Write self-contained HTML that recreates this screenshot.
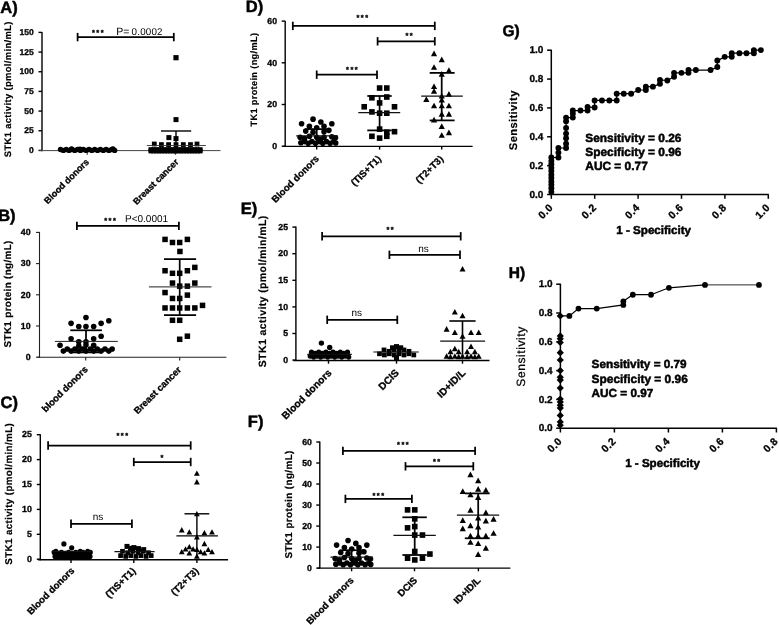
<!DOCTYPE html>
<html><head><meta charset="utf-8"><title>Figure</title>
<style>
html,body{margin:0;padding:0;background:#fff;}
body{width:779px;height:625px;overflow:hidden;}
svg{display:block;font-family:"Liberation Sans",sans-serif;will-change:transform;opacity:0.999;text-rendering:geometricPrecision;}
</style></head>
<body>
<svg width="779" height="625" viewBox="0 0 779 625">
<rect width="779" height="625" fill="#fff"/>
<g id="A">
<text x="0.30" y="12.70" font-size="16.5" font-weight="bold" text-anchor="start" fill="#000" stroke="#000" stroke-width="0.5">A)</text>
<line x1="42.00" y1="31.90" x2="42.00" y2="151.30" stroke="#000" stroke-width="1.4"/>
<line x1="38.50" y1="32.40" x2="42.00" y2="32.40" stroke="#000" stroke-width="1.4"/>
<text x="33.80" y="35.03" font-size="8.5" font-weight="bold" text-anchor="end" fill="#000" stroke="#000" stroke-width="0.32">150</text>
<line x1="38.50" y1="52.07" x2="42.00" y2="52.07" stroke="#000" stroke-width="1.4"/>
<text x="33.80" y="54.70" font-size="8.5" font-weight="bold" text-anchor="end" fill="#000" stroke="#000" stroke-width="0.32">125</text>
<line x1="38.50" y1="71.74" x2="42.00" y2="71.74" stroke="#000" stroke-width="1.4"/>
<text x="33.80" y="74.38" font-size="8.5" font-weight="bold" text-anchor="end" fill="#000" stroke="#000" stroke-width="0.32">100</text>
<line x1="38.50" y1="91.41" x2="42.00" y2="91.41" stroke="#000" stroke-width="1.4"/>
<text x="33.80" y="94.05" font-size="8.5" font-weight="bold" text-anchor="end" fill="#000" stroke="#000" stroke-width="0.32">75</text>
<line x1="38.50" y1="111.08" x2="42.00" y2="111.08" stroke="#000" stroke-width="1.4"/>
<text x="33.80" y="113.72" font-size="8.5" font-weight="bold" text-anchor="end" fill="#000" stroke="#000" stroke-width="0.32">50</text>
<line x1="38.50" y1="130.75" x2="42.00" y2="130.75" stroke="#000" stroke-width="1.4"/>
<text x="33.80" y="133.38" font-size="8.5" font-weight="bold" text-anchor="end" fill="#000" stroke="#000" stroke-width="0.32">25</text>
<line x1="38.50" y1="150.42" x2="42.00" y2="150.42" stroke="#000" stroke-width="1.4"/>
<text x="33.80" y="153.06" font-size="8.5" font-weight="bold" text-anchor="end" fill="#000" stroke="#000" stroke-width="0.32">0</text>
<line x1="39.50" y1="150.60" x2="220.50" y2="150.60" stroke="#444" stroke-width="1.0"/>
<line x1="88.00" y1="150.60" x2="88.00" y2="150.60" stroke="#444" stroke-width="1.0"/>
<line x1="174.70" y1="150.60" x2="174.70" y2="150.60" stroke="#444" stroke-width="1.0"/>
<text x="11.30" y="89.20" font-size="9.4" font-weight="bold" text-anchor="middle" fill="#000" letter-spacing="0.37" transform="rotate(-90 11.30 89.20)" stroke="#000" stroke-width="0.18">STK1 activity (pmol/min/mL)</text>
<line x1="77.60" y1="37.10" x2="173.80" y2="37.10" stroke="#000" stroke-width="1.75"/>
<line x1="77.60" y1="32.90" x2="77.60" y2="41.30" stroke="#000" stroke-width="1.75"/>
<line x1="173.80" y1="32.90" x2="173.80" y2="41.30" stroke="#000" stroke-width="1.75"/>
<text x="91.98" y="35.30" font-size="7.4" font-weight="bold" text-anchor="start" fill="#000" letter-spacing="1.5" stroke="#000" stroke-width="0.32">***</text>
<text x="116.20" y="34.80" font-size="10.5" font-weight="normal" text-anchor="start" fill="#000">P=</text>
<text x="131.60" y="34.90" font-size="9.8" font-weight="normal" text-anchor="start" fill="#000" letter-spacing="0.2">0.0002</text>
<circle cx="60.50" cy="149.50" r="2.7"/>
<circle cx="63.35" cy="150.40" r="2.7"/>
<circle cx="66.20" cy="149.50" r="2.7"/>
<circle cx="69.05" cy="150.40" r="2.7"/>
<circle cx="71.90" cy="149.50" r="2.7"/>
<circle cx="74.75" cy="150.40" r="2.7"/>
<circle cx="77.60" cy="149.50" r="2.7"/>
<circle cx="80.45" cy="150.40" r="2.7"/>
<circle cx="83.30" cy="149.50" r="2.7"/>
<circle cx="86.15" cy="150.40" r="2.7"/>
<circle cx="89.00" cy="149.50" r="2.7"/>
<circle cx="91.85" cy="150.40" r="2.7"/>
<circle cx="94.70" cy="149.50" r="2.7"/>
<circle cx="97.55" cy="150.40" r="2.7"/>
<circle cx="100.40" cy="149.50" r="2.7"/>
<circle cx="103.25" cy="150.40" r="2.7"/>
<circle cx="106.10" cy="149.50" r="2.7"/>
<circle cx="108.95" cy="150.40" r="2.7"/>
<circle cx="111.80" cy="149.50" r="2.7"/>
<circle cx="114.65" cy="150.40" r="2.7"/>
<circle cx="71.50" cy="149.00" r="2.7"/>
<circle cx="113.00" cy="148.90" r="2.7"/>
<circle cx="80.00" cy="149.20" r="2.7"/>
<line x1="87.20" y1="152.00" x2="87.20" y2="154.80" stroke="#222" stroke-width="1.0"/>
<line x1="175.30" y1="152.00" x2="175.30" y2="154.80" stroke="#222" stroke-width="1.0"/>
<rect x="148.50" y="147.20" width="4.6" height="4.6"/>
<rect x="148.50" y="148.80" width="4.6" height="4.6"/>
<rect x="151.25" y="147.20" width="4.6" height="4.6"/>
<rect x="151.25" y="148.80" width="4.6" height="4.6"/>
<rect x="154.00" y="147.20" width="4.6" height="4.6"/>
<rect x="154.00" y="148.80" width="4.6" height="4.6"/>
<rect x="156.75" y="147.20" width="4.6" height="4.6"/>
<rect x="156.75" y="148.80" width="4.6" height="4.6"/>
<rect x="159.50" y="147.20" width="4.6" height="4.6"/>
<rect x="159.50" y="148.80" width="4.6" height="4.6"/>
<rect x="162.25" y="147.20" width="4.6" height="4.6"/>
<rect x="162.25" y="148.80" width="4.6" height="4.6"/>
<rect x="165.00" y="147.20" width="4.6" height="4.6"/>
<rect x="165.00" y="148.80" width="4.6" height="4.6"/>
<rect x="167.75" y="147.20" width="4.6" height="4.6"/>
<rect x="167.75" y="148.80" width="4.6" height="4.6"/>
<rect x="170.50" y="147.20" width="4.6" height="4.6"/>
<rect x="170.50" y="148.80" width="4.6" height="4.6"/>
<rect x="173.25" y="147.20" width="4.6" height="4.6"/>
<rect x="173.25" y="148.80" width="4.6" height="4.6"/>
<rect x="176.00" y="147.20" width="4.6" height="4.6"/>
<rect x="176.00" y="148.80" width="4.6" height="4.6"/>
<rect x="178.75" y="147.20" width="4.6" height="4.6"/>
<rect x="178.75" y="148.80" width="4.6" height="4.6"/>
<rect x="181.50" y="147.20" width="4.6" height="4.6"/>
<rect x="181.50" y="148.80" width="4.6" height="4.6"/>
<rect x="184.25" y="147.20" width="4.6" height="4.6"/>
<rect x="184.25" y="148.80" width="4.6" height="4.6"/>
<rect x="187.00" y="147.20" width="4.6" height="4.6"/>
<rect x="187.00" y="148.80" width="4.6" height="4.6"/>
<rect x="189.75" y="147.20" width="4.6" height="4.6"/>
<rect x="189.75" y="148.80" width="4.6" height="4.6"/>
<rect x="192.50" y="147.20" width="4.6" height="4.6"/>
<rect x="192.50" y="148.80" width="4.6" height="4.6"/>
<rect x="195.25" y="147.20" width="4.6" height="4.6"/>
<rect x="195.25" y="148.80" width="4.6" height="4.6"/>
<rect x="198.00" y="147.20" width="4.6" height="4.6"/>
<rect x="198.00" y="148.80" width="4.6" height="4.6"/>
<rect x="151.90" y="141.60" width="4.8" height="4.8"/>
<rect x="159.00" y="142.20" width="4.8" height="4.8"/>
<rect x="166.20" y="142.20" width="4.8" height="4.8"/>
<rect x="180.90" y="142.20" width="4.8" height="4.8"/>
<rect x="188.10" y="142.20" width="4.8" height="4.8"/>
<rect x="194.60" y="141.60" width="4.8" height="4.8"/>
<rect x="173.60" y="142.20" width="4.8" height="4.8"/>
<rect x="173.40" y="55.10" width="5.2" height="5.2"/>
<rect x="173.50" y="117.10" width="5.0" height="5.0"/>
<rect x="166.40" y="135.10" width="5.0" height="5.0"/>
<rect x="173.50" y="136.10" width="5.0" height="5.0"/>
<line x1="176.00" y1="131.00" x2="176.00" y2="150.00" stroke="#000" stroke-width="1.4"/>
<line x1="161.00" y1="131.00" x2="191.20" y2="131.00" stroke="#000" stroke-width="1.4"/>
<line x1="146.80" y1="145.50" x2="205.90" y2="145.50" stroke="#333" stroke-width="0.9"/>
<text x="89.60" y="162.60" font-size="9.1" font-weight="bold" text-anchor="end" fill="#000" transform="rotate(-45 89.60 162.60)" stroke="#000" stroke-width="0.32">Blood donors</text>
<text x="179.20" y="162.60" font-size="9.1" font-weight="bold" text-anchor="end" fill="#000" transform="rotate(-45 179.20 162.60)" stroke="#000" stroke-width="0.32">Breast cancer</text>
</g>
<g id="B">
<text x="-1.80" y="221.30" font-size="16.5" font-weight="bold" text-anchor="start" fill="#000" stroke="#000" stroke-width="0.5">B)</text>
<line x1="39.50" y1="231.90" x2="39.50" y2="357.70" stroke="#222" stroke-width="1.1"/>
<line x1="36.00" y1="232.40" x2="39.50" y2="232.40" stroke="#222" stroke-width="1.1"/>
<text x="30.60" y="235.13" font-size="8.8" font-weight="bold" text-anchor="end" fill="#000" stroke="#000" stroke-width="0.32">40</text>
<line x1="36.00" y1="263.60" x2="39.50" y2="263.60" stroke="#222" stroke-width="1.1"/>
<text x="30.60" y="266.33" font-size="8.8" font-weight="bold" text-anchor="end" fill="#000" stroke="#000" stroke-width="0.32">30</text>
<line x1="36.00" y1="294.80" x2="39.50" y2="294.80" stroke="#222" stroke-width="1.1"/>
<text x="30.60" y="297.53" font-size="8.8" font-weight="bold" text-anchor="end" fill="#000" stroke="#000" stroke-width="0.32">20</text>
<line x1="36.00" y1="326.00" x2="39.50" y2="326.00" stroke="#222" stroke-width="1.1"/>
<text x="30.60" y="328.73" font-size="8.8" font-weight="bold" text-anchor="end" fill="#000" stroke="#000" stroke-width="0.32">10</text>
<line x1="36.00" y1="357.20" x2="39.50" y2="357.20" stroke="#222" stroke-width="1.1"/>
<text x="30.60" y="359.93" font-size="8.8" font-weight="bold" text-anchor="end" fill="#000" stroke="#000" stroke-width="0.32">0</text>
<line x1="37.50" y1="357.20" x2="226.40" y2="357.20" stroke="#222" stroke-width="1.1"/>
<line x1="85.70" y1="357.20" x2="85.70" y2="360.40" stroke="#222" stroke-width="1.1"/>
<line x1="179.70" y1="357.20" x2="179.70" y2="360.40" stroke="#222" stroke-width="1.1"/>
<text x="10.60" y="293.90" font-size="9.95" font-weight="bold" text-anchor="middle" fill="#000" letter-spacing="0.3" transform="rotate(-90 10.60 293.90)" stroke="#000" stroke-width="0.18">STK1 protein (ng/mL)</text>
<line x1="76.90" y1="225.90" x2="178.90" y2="225.90" stroke="#000" stroke-width="1.75"/>
<line x1="76.90" y1="221.70" x2="76.90" y2="230.10" stroke="#000" stroke-width="1.75"/>
<line x1="178.90" y1="221.70" x2="178.90" y2="230.10" stroke="#000" stroke-width="1.75"/>
<text x="104.18" y="223.40" font-size="7.4" font-weight="bold" text-anchor="start" fill="#000" letter-spacing="1.5" stroke="#000" stroke-width="0.32">***</text>
<text x="125.00" y="222.40" font-size="10" font-weight="normal" text-anchor="start" fill="#000">P&lt;0.0001</text>
<rect x="162.29" y="236.66" width="5.5" height="5.5"/>
<rect x="169.74" y="239.74" width="5.5" height="5.5"/>
<rect x="176.93" y="239.74" width="5.5" height="5.5"/>
<rect x="184.63" y="236.66" width="5.5" height="5.5"/>
<rect x="177.19" y="248.73" width="5.5" height="5.5"/>
<rect x="162.29" y="267.98" width="5.5" height="5.5"/>
<rect x="169.74" y="270.55" width="5.5" height="5.5"/>
<rect x="176.93" y="270.55" width="5.5" height="5.5"/>
<rect x="184.63" y="267.98" width="5.5" height="5.5"/>
<rect x="192.08" y="264.65" width="5.5" height="5.5"/>
<rect x="169.74" y="280.31" width="5.5" height="5.5"/>
<rect x="176.93" y="283.39" width="5.5" height="5.5"/>
<rect x="184.63" y="283.39" width="5.5" height="5.5"/>
<rect x="192.08" y="280.31" width="5.5" height="5.5"/>
<rect x="162.29" y="289.81" width="5.5" height="5.5"/>
<rect x="169.74" y="295.71" width="5.5" height="5.5"/>
<rect x="176.93" y="295.71" width="5.5" height="5.5"/>
<rect x="184.63" y="292.37" width="5.5" height="5.5"/>
<rect x="162.29" y="305.21" width="5.5" height="5.5"/>
<rect x="169.74" y="305.21" width="5.5" height="5.5"/>
<rect x="176.93" y="305.21" width="5.5" height="5.5"/>
<rect x="184.63" y="305.21" width="5.5" height="5.5"/>
<rect x="192.08" y="305.21" width="5.5" height="5.5"/>
<rect x="199.78" y="302.64" width="5.5" height="5.5"/>
<rect x="169.74" y="317.53" width="5.5" height="5.5"/>
<rect x="176.93" y="317.53" width="5.5" height="5.5"/>
<rect x="176.93" y="336.53" width="5.5" height="5.5"/>
<rect x="184.63" y="333.45" width="5.5" height="5.5"/>
<line x1="179.70" y1="259.20" x2="179.70" y2="315.20" stroke="#000" stroke-width="1.75"/>
<line x1="164.00" y1="259.20" x2="196.10" y2="259.20" stroke="#000" stroke-width="1.75"/>
<line x1="164.00" y1="315.20" x2="196.10" y2="315.20" stroke="#000" stroke-width="1.75"/>
<line x1="148.90" y1="286.90" x2="211.50" y2="286.90" stroke="#222" stroke-width="1.0"/>
<circle cx="85.97" cy="317.46" r="2.8"/>
<circle cx="71.08" cy="323.37" r="2.8"/>
<circle cx="78.78" cy="326.45" r="2.8"/>
<circle cx="85.97" cy="326.45" r="2.8"/>
<circle cx="93.67" cy="326.45" r="2.8"/>
<circle cx="101.12" cy="323.37" r="2.8"/>
<circle cx="108.82" cy="320.80" r="2.8"/>
<circle cx="71.08" cy="338.77" r="2.8"/>
<circle cx="78.78" cy="341.85" r="2.8"/>
<circle cx="85.97" cy="341.85" r="2.8"/>
<circle cx="93.67" cy="338.77" r="2.8"/>
<circle cx="101.12" cy="336.20" r="2.8"/>
<circle cx="60.04" cy="345.19" r="2.8"/>
<circle cx="78.78" cy="345.96" r="2.8"/>
<circle cx="85.97" cy="344.93" r="2.8"/>
<circle cx="93.67" cy="345.19" r="2.8"/>
<circle cx="63.38" cy="351.09" r="2.8"/>
<circle cx="67.23" cy="349.04" r="2.8"/>
<circle cx="71.08" cy="351.09" r="2.8"/>
<circle cx="74.93" cy="349.04" r="2.8"/>
<circle cx="78.78" cy="351.09" r="2.8"/>
<circle cx="82.63" cy="349.04" r="2.8"/>
<circle cx="85.97" cy="351.09" r="2.8"/>
<circle cx="90.33" cy="349.04" r="2.8"/>
<circle cx="93.67" cy="351.09" r="2.8"/>
<circle cx="97.27" cy="349.04" r="2.8"/>
<circle cx="101.12" cy="351.09" r="2.8"/>
<circle cx="104.97" cy="349.04" r="2.8"/>
<circle cx="108.82" cy="351.09" r="2.8"/>
<circle cx="112.16" cy="349.04" r="2.8"/>
<line x1="86.00" y1="330.30" x2="86.00" y2="352.40" stroke="#000" stroke-width="1.75"/>
<line x1="70.30" y1="330.30" x2="101.90" y2="330.30" stroke="#000" stroke-width="1.75"/>
<line x1="70.30" y1="352.40" x2="101.90" y2="352.40" stroke="#000" stroke-width="1.75"/>
<line x1="54.90" y1="341.40" x2="117.80" y2="341.40" stroke="#222" stroke-width="1.0"/>
<text x="88.40" y="370.00" font-size="9.45" font-weight="bold" text-anchor="end" fill="#000" transform="rotate(-45 88.40 370.00)" stroke="#000" stroke-width="0.32">blood donors</text>
<text x="181.80" y="370.40" font-size="9.45" font-weight="bold" text-anchor="end" fill="#000" transform="rotate(-45 181.80 370.40)" stroke="#000" stroke-width="0.32">Breast cancer</text>
</g>
<g id="C">
<text x="0.60" y="408.20" font-size="16.5" font-weight="bold" text-anchor="start" fill="#000" stroke="#000" stroke-width="0.5">C)</text>
<line x1="40.30" y1="434.20" x2="40.30" y2="560.20" stroke="#000" stroke-width="1.4"/>
<line x1="36.80" y1="434.70" x2="40.30" y2="434.70" stroke="#000" stroke-width="1.4"/>
<text x="31.80" y="437.43" font-size="8.8" font-weight="bold" text-anchor="end" fill="#000" stroke="#000" stroke-width="0.32">25</text>
<line x1="36.80" y1="459.60" x2="40.30" y2="459.60" stroke="#000" stroke-width="1.4"/>
<text x="31.80" y="462.33" font-size="8.8" font-weight="bold" text-anchor="end" fill="#000" stroke="#000" stroke-width="0.32">20</text>
<line x1="36.80" y1="484.50" x2="40.30" y2="484.50" stroke="#000" stroke-width="1.4"/>
<text x="31.80" y="487.23" font-size="8.8" font-weight="bold" text-anchor="end" fill="#000" stroke="#000" stroke-width="0.32">15</text>
<line x1="36.80" y1="509.40" x2="40.30" y2="509.40" stroke="#000" stroke-width="1.4"/>
<text x="31.80" y="512.13" font-size="8.8" font-weight="bold" text-anchor="end" fill="#000" stroke="#000" stroke-width="0.32">10</text>
<line x1="36.80" y1="534.30" x2="40.30" y2="534.30" stroke="#000" stroke-width="1.4"/>
<text x="31.80" y="537.03" font-size="8.8" font-weight="bold" text-anchor="end" fill="#000" stroke="#000" stroke-width="0.32">5</text>
<line x1="36.80" y1="559.20" x2="40.30" y2="559.20" stroke="#000" stroke-width="1.4"/>
<text x="31.80" y="561.93" font-size="8.8" font-weight="bold" text-anchor="end" fill="#000" stroke="#000" stroke-width="0.32">0</text>
<line x1="38.00" y1="559.70" x2="228.10" y2="559.70" stroke="#000" stroke-width="1.4"/>
<line x1="71.00" y1="559.70" x2="71.00" y2="562.90" stroke="#000" stroke-width="1.4"/>
<line x1="133.80" y1="559.70" x2="133.80" y2="562.90" stroke="#000" stroke-width="1.4"/>
<line x1="196.90" y1="559.70" x2="196.90" y2="562.90" stroke="#000" stroke-width="1.4"/>
<text x="12.00" y="493.80" font-size="9.8" font-weight="bold" text-anchor="middle" fill="#000" letter-spacing="0.375" transform="rotate(-90 12.00 493.80)" stroke="#000" stroke-width="0.18">STK1 activity (pmol/min/mL)</text>
<line x1="48.10" y1="445.50" x2="190.70" y2="445.50" stroke="#000" stroke-width="1.75"/>
<line x1="48.10" y1="441.30" x2="48.10" y2="449.70" stroke="#000" stroke-width="1.75"/>
<line x1="190.70" y1="441.30" x2="190.70" y2="449.70" stroke="#000" stroke-width="1.75"/>
<text x="116.38" y="437.90" font-size="7.4" font-weight="bold" text-anchor="start" fill="#000" letter-spacing="1.5" stroke="#000" stroke-width="0.32">***</text>
<line x1="133.80" y1="462.00" x2="190.70" y2="462.00" stroke="#000" stroke-width="1.75"/>
<line x1="133.80" y1="457.80" x2="133.80" y2="466.20" stroke="#000" stroke-width="1.75"/>
<line x1="190.70" y1="457.80" x2="190.70" y2="466.20" stroke="#000" stroke-width="1.75"/>
<text x="160.56" y="459.60" font-size="7.4" font-weight="bold" text-anchor="start" fill="#000" letter-spacing="1.5" stroke="#000" stroke-width="0.32">*</text>
<line x1="71.00" y1="523.80" x2="131.90" y2="523.80" stroke="#000" stroke-width="1.75"/>
<line x1="71.00" y1="519.60" x2="71.00" y2="528.00" stroke="#000" stroke-width="1.75"/>
<line x1="131.90" y1="519.60" x2="131.90" y2="528.00" stroke="#000" stroke-width="1.75"/>
<text x="98.00" y="520.30" font-size="10" font-weight="normal" text-anchor="middle" fill="#000">ns</text>
<path d="M193.97 475.77L199.77 475.77L196.87 470.44Z"/>
<path d="M193.97 484.40L199.77 484.40L196.87 479.07Z"/>
<path d="M193.97 516.21L199.77 516.21L196.87 510.88Z"/>
<path d="M178.87 532.39L184.67 532.39L181.77 527.05Z"/>
<path d="M186.42 534.54L192.22 534.54L189.32 529.21Z"/>
<path d="M201.52 535.35L207.32 535.35L204.42 530.02Z"/>
<path d="M209.07 534.54L214.87 534.54L211.97 529.21Z"/>
<path d="M193.97 539.40L199.77 539.40L196.87 534.06Z"/>
<path d="M201.52 546.13L207.32 546.13L204.42 540.80Z"/>
<path d="M178.87 554.22L184.67 554.22L181.77 548.89Z"/>
<path d="M182.65 551.53L188.45 551.53L185.55 546.19Z"/>
<path d="M186.42 549.37L192.22 549.37L189.32 544.03Z"/>
<path d="M190.19 551.53L195.99 551.53L193.09 546.19Z"/>
<path d="M186.42 555.57L192.22 555.57L189.32 550.23Z"/>
<path d="M193.97 552.07L199.77 552.07L196.87 546.73Z"/>
<path d="M197.74 554.22L203.54 554.22L200.64 548.89Z"/>
<path d="M201.52 555.57L207.32 555.57L204.42 550.23Z"/>
<path d="M205.29 552.07L211.09 552.07L208.19 546.73Z"/>
<path d="M209.07 554.22L214.87 554.22L211.97 548.89Z"/>
<path d="M193.97 558.80L199.77 558.80L196.87 553.47Z"/>
<line x1="196.90" y1="513.80" x2="196.90" y2="558.00" stroke="#000" stroke-width="1.4"/>
<line x1="184.50" y1="513.80" x2="209.30" y2="513.80" stroke="#000" stroke-width="1.4"/>
<line x1="176.40" y1="535.90" x2="217.90" y2="535.90" stroke="#000" stroke-width="1.3"/>
<circle cx="63.90" cy="543.90" r="2.6"/>
<circle cx="71.70" cy="547.80" r="2.6"/>
<circle cx="55.00" cy="556.50" r="2.6"/>
<circle cx="58.50" cy="557.30" r="2.6"/>
<circle cx="62.00" cy="556.50" r="2.6"/>
<circle cx="65.50" cy="557.30" r="2.6"/>
<circle cx="69.00" cy="556.50" r="2.6"/>
<circle cx="72.50" cy="557.30" r="2.6"/>
<circle cx="76.00" cy="556.50" r="2.6"/>
<circle cx="79.50" cy="557.30" r="2.6"/>
<circle cx="83.00" cy="556.50" r="2.6"/>
<circle cx="86.50" cy="557.30" r="2.6"/>
<circle cx="90.00" cy="556.50" r="2.6"/>
<circle cx="54.20" cy="552.40" r="2.6"/>
<circle cx="57.80" cy="553.60" r="2.6"/>
<circle cx="61.40" cy="552.40" r="2.6"/>
<circle cx="65.00" cy="553.60" r="2.6"/>
<circle cx="68.60" cy="552.40" r="2.6"/>
<circle cx="72.20" cy="553.60" r="2.6"/>
<circle cx="75.80" cy="552.40" r="2.6"/>
<circle cx="79.40" cy="553.60" r="2.6"/>
<circle cx="83.00" cy="552.40" r="2.6"/>
<circle cx="86.60" cy="553.60" r="2.6"/>
<circle cx="90.20" cy="552.40" r="2.6"/>
<circle cx="55.90" cy="551.20" r="2.5"/>
<circle cx="80.20" cy="551.20" r="2.5"/>
<circle cx="87.60" cy="551.20" r="2.5"/>
<line x1="51.70" y1="551.30" x2="92.40" y2="551.30" stroke="#111" stroke-width="1.2"/>
<rect x="118.25" y="553.25" width="4.7" height="4.7"/>
<rect x="123.35" y="554.05" width="4.7" height="4.7"/>
<rect x="128.45" y="553.25" width="4.7" height="4.7"/>
<rect x="133.55" y="554.05" width="4.7" height="4.7"/>
<rect x="138.65" y="553.25" width="4.7" height="4.7"/>
<rect x="143.75" y="554.05" width="4.7" height="4.7"/>
<rect x="148.85" y="553.25" width="4.7" height="4.7"/>
<rect x="120.15" y="548.95" width="4.7" height="4.7"/>
<rect x="125.35" y="550.35" width="4.7" height="4.7"/>
<rect x="130.55" y="548.95" width="4.7" height="4.7"/>
<rect x="135.75" y="550.35" width="4.7" height="4.7"/>
<rect x="140.95" y="548.95" width="4.7" height="4.7"/>
<rect x="146.15" y="550.35" width="4.7" height="4.7"/>
<rect x="124.50" y="543.90" width="5.0" height="5.0"/>
<rect x="131.40" y="545.10" width="5.0" height="5.0"/>
<rect x="141.20" y="547.10" width="5.0" height="5.0"/>
<rect x="136.00" y="546.10" width="5.0" height="5.0"/>
<rect x="128.00" y="545.90" width="5.0" height="5.0"/>
<line x1="114.40" y1="551.70" x2="154.60" y2="551.70" stroke="#111" stroke-width="1.2"/>
<text x="75.00" y="571.10" font-size="9.6" font-weight="bold" text-anchor="end" fill="#000" transform="rotate(-45 75.00 571.10)" stroke="#000" stroke-width="0.32">Blood donors</text>
<text x="136.20" y="571.60" font-size="9.6" font-weight="bold" text-anchor="end" fill="#000" transform="rotate(-45 136.20 571.60)" stroke="#000" stroke-width="0.32">(TIS+T1)</text>
<text x="199.20" y="571.60" font-size="9.6" font-weight="bold" text-anchor="end" fill="#000" transform="rotate(-45 199.20 571.60)" stroke="#000" stroke-width="0.32">(T2+T3)</text>
</g>
<g id="D">
<text x="245.80" y="12.20" font-size="16.5" font-weight="bold" text-anchor="start" fill="#000" stroke="#000" stroke-width="0.5">D)</text>
<line x1="285.20" y1="20.90" x2="285.20" y2="146.90" stroke="#000" stroke-width="1.4"/>
<line x1="281.70" y1="21.10" x2="285.20" y2="21.10" stroke="#000" stroke-width="1.4"/>
<text x="277.00" y="23.80" font-size="8.7" font-weight="bold" text-anchor="end" fill="#000" stroke="#000" stroke-width="0.32">60</text>
<line x1="281.70" y1="62.80" x2="285.20" y2="62.80" stroke="#000" stroke-width="1.4"/>
<text x="277.00" y="65.50" font-size="8.7" font-weight="bold" text-anchor="end" fill="#000" stroke="#000" stroke-width="0.32">40</text>
<line x1="281.70" y1="104.50" x2="285.20" y2="104.50" stroke="#000" stroke-width="1.4"/>
<text x="277.00" y="107.20" font-size="8.7" font-weight="bold" text-anchor="end" fill="#000" stroke="#000" stroke-width="0.32">20</text>
<line x1="281.70" y1="146.20" x2="285.20" y2="146.20" stroke="#000" stroke-width="1.4"/>
<text x="277.00" y="148.90" font-size="8.7" font-weight="bold" text-anchor="end" fill="#000" stroke="#000" stroke-width="0.32">0</text>
<line x1="283.00" y1="146.40" x2="472.60" y2="146.40" stroke="#000" stroke-width="1.4"/>
<line x1="316.70" y1="146.40" x2="316.70" y2="149.60" stroke="#000" stroke-width="1.4"/>
<line x1="379.60" y1="146.40" x2="379.60" y2="149.60" stroke="#000" stroke-width="1.4"/>
<line x1="441.70" y1="146.40" x2="441.70" y2="149.60" stroke="#000" stroke-width="1.4"/>
<text x="257.00" y="79.60" font-size="9.2" font-weight="bold" text-anchor="middle" fill="#000" letter-spacing="0.35" transform="rotate(-90 257.00 79.60)" stroke="#000" stroke-width="0.18">TK1 protein (ng/mL)</text>
<line x1="292.80" y1="25.90" x2="434.80" y2="25.90" stroke="#000" stroke-width="1.75"/>
<line x1="292.80" y1="21.70" x2="292.80" y2="30.10" stroke="#000" stroke-width="1.75"/>
<line x1="434.80" y1="21.70" x2="434.80" y2="30.10" stroke="#000" stroke-width="1.75"/>
<text x="356.38" y="19.90" font-size="7.4" font-weight="bold" text-anchor="start" fill="#000" letter-spacing="1.5" stroke="#000" stroke-width="0.32">***</text>
<line x1="377.60" y1="41.30" x2="434.80" y2="41.30" stroke="#000" stroke-width="1.75"/>
<line x1="377.60" y1="37.10" x2="377.60" y2="45.50" stroke="#000" stroke-width="1.75"/>
<line x1="434.80" y1="37.10" x2="434.80" y2="45.50" stroke="#000" stroke-width="1.75"/>
<text x="405.47" y="38.10" font-size="7.4" font-weight="bold" text-anchor="start" fill="#000" letter-spacing="1.5" stroke="#000" stroke-width="0.32">**</text>
<line x1="316.70" y1="74.70" x2="377.00" y2="74.70" stroke="#000" stroke-width="1.75"/>
<line x1="316.70" y1="70.50" x2="316.70" y2="78.90" stroke="#000" stroke-width="1.75"/>
<line x1="377.00" y1="70.50" x2="377.00" y2="78.90" stroke="#000" stroke-width="1.75"/>
<text x="346.08" y="71.60" font-size="7.4" font-weight="bold" text-anchor="start" fill="#000" letter-spacing="1.5" stroke="#000" stroke-width="0.32">***</text>
<path d="M430.94 56.23L437.14 56.23L434.04 50.52Z"/>
<path d="M438.65 62.13L444.85 62.13L441.75 56.43Z"/>
<path d="M430.94 69.83L437.14 69.83L434.04 64.13Z"/>
<path d="M445.83 72.92L452.03 72.92L448.93 67.21Z"/>
<path d="M438.65 76.77L444.85 76.77L441.75 71.06Z"/>
<path d="M430.94 89.09L437.14 89.09L434.04 83.39Z"/>
<path d="M430.94 93.71L437.14 93.71L434.04 88.01Z"/>
<path d="M438.65 98.59L444.85 98.59L441.75 92.89Z"/>
<path d="M445.83 96.79L452.03 96.79L448.93 91.09Z"/>
<path d="M423.24 101.93L429.44 101.93L426.34 96.22Z"/>
<path d="M438.65 102.44L444.85 102.44L441.75 96.74Z"/>
<path d="M430.94 108.35L437.14 108.35L434.04 102.64Z"/>
<path d="M438.65 108.35L444.85 108.35L441.75 102.64Z"/>
<path d="M445.83 108.35L452.03 108.35L448.93 102.64Z"/>
<path d="M438.65 116.82L444.85 116.82L441.75 111.11Z"/>
<path d="M445.83 116.82L452.03 116.82L448.93 111.11Z"/>
<path d="M430.94 122.47L437.14 122.47L434.04 116.76Z"/>
<path d="M438.65 128.88L444.85 128.88L441.75 123.18Z"/>
<path d="M445.83 135.30L452.03 135.30L448.93 129.60Z"/>
<path d="M438.65 137.87L444.85 137.87L441.75 132.17Z"/>
<line x1="441.70" y1="72.90" x2="441.70" y2="120.40" stroke="#000" stroke-width="1.75"/>
<line x1="429.70" y1="72.90" x2="454.60" y2="72.90" stroke="#000" stroke-width="1.75"/>
<line x1="429.70" y1="120.40" x2="454.60" y2="120.40" stroke="#000" stroke-width="1.75"/>
<line x1="421.20" y1="96.00" x2="462.80" y2="96.00" stroke="#111" stroke-width="1.25"/>
<rect x="376.81" y="85.24" width="5.6" height="5.6"/>
<rect x="384.00" y="85.24" width="5.6" height="5.6"/>
<rect x="369.11" y="94.99" width="5.6" height="5.6"/>
<rect x="384.00" y="94.22" width="5.6" height="5.6"/>
<rect x="361.41" y="103.98" width="5.6" height="5.6"/>
<rect x="376.81" y="100.13" width="5.6" height="5.6"/>
<rect x="391.71" y="103.98" width="5.6" height="5.6"/>
<rect x="369.11" y="109.11" width="5.6" height="5.6"/>
<rect x="376.81" y="110.40" width="5.6" height="5.6"/>
<rect x="384.00" y="110.40" width="5.6" height="5.6"/>
<rect x="376.81" y="126.31" width="5.6" height="5.6"/>
<rect x="391.71" y="128.88" width="5.6" height="5.6"/>
<rect x="369.11" y="133.50" width="5.6" height="5.6"/>
<rect x="376.81" y="135.30" width="5.6" height="5.6"/>
<rect x="384.00" y="133.50" width="5.6" height="5.6"/>
<rect x="384.00" y="129.39" width="5.6" height="5.6"/>
<line x1="379.60" y1="96.00" x2="379.60" y2="130.40" stroke="#000" stroke-width="1.75"/>
<line x1="367.30" y1="96.00" x2="391.70" y2="96.00" stroke="#000" stroke-width="1.75"/>
<line x1="367.30" y1="130.40" x2="391.70" y2="130.40" stroke="#000" stroke-width="1.75"/>
<line x1="358.30" y1="112.70" x2="400.20" y2="112.70" stroke="#111" stroke-width="1.25"/>
<circle cx="313.05" cy="119.15" r="2.8"/>
<circle cx="301.59" cy="123.78" r="2.8"/>
<circle cx="320.85" cy="122.07" r="2.8"/>
<circle cx="331.83" cy="123.78" r="2.8"/>
<circle cx="309.39" cy="126.22" r="2.8"/>
<circle cx="324.02" cy="126.22" r="2.8"/>
<circle cx="316.71" cy="127.68" r="2.8"/>
<circle cx="305.73" cy="131.10" r="2.8"/>
<circle cx="313.05" cy="132.32" r="2.8"/>
<circle cx="324.02" cy="131.83" r="2.8"/>
<circle cx="328.90" cy="130.37" r="2.8"/>
<circle cx="300.12" cy="137.20" r="2.8"/>
<circle cx="309.39" cy="136.22" r="2.8"/>
<circle cx="316.71" cy="137.20" r="2.8"/>
<circle cx="324.02" cy="137.20" r="2.8"/>
<circle cx="331.83" cy="136.71" r="2.8"/>
<circle cx="335.49" cy="137.68" r="2.8"/>
<circle cx="304.51" cy="138.66" r="2.8"/>
<circle cx="320.37" cy="139.15" r="2.8"/>
<circle cx="300.85" cy="142.80" r="2.8"/>
<circle cx="304.51" cy="141.59" r="2.8"/>
<circle cx="308.17" cy="143.29" r="2.8"/>
<circle cx="311.83" cy="141.59" r="2.8"/>
<circle cx="315.49" cy="143.29" r="2.8"/>
<circle cx="319.15" cy="141.59" r="2.8"/>
<circle cx="322.80" cy="143.29" r="2.8"/>
<circle cx="326.46" cy="141.59" r="2.8"/>
<circle cx="330.12" cy="143.29" r="2.8"/>
<circle cx="333.78" cy="141.59" r="2.8"/>
<circle cx="335.73" cy="143.05" r="2.8"/>
<line x1="316.70" y1="129.10" x2="316.70" y2="142.50" stroke="#000" stroke-width="1.75"/>
<line x1="305.20" y1="129.10" x2="328.80" y2="129.10" stroke="#000" stroke-width="1.75"/>
<line x1="305.20" y1="142.50" x2="328.80" y2="142.50" stroke="#000" stroke-width="1.75"/>
<line x1="296.20" y1="135.80" x2="337.80" y2="135.80" stroke="#111" stroke-width="1.25"/>
<text x="319.60" y="159.20" font-size="9.6" font-weight="bold" text-anchor="end" fill="#000" transform="rotate(-45 319.60 159.20)" stroke="#000" stroke-width="0.32">Blood donors</text>
<text x="381.70" y="159.60" font-size="9.6" font-weight="bold" text-anchor="end" fill="#000" transform="rotate(-45 381.70 159.60)" stroke="#000" stroke-width="0.32">(TIS+T1)</text>
<text x="443.90" y="159.60" font-size="9.6" font-weight="bold" text-anchor="end" fill="#000" transform="rotate(-45 443.90 159.60)" stroke="#000" stroke-width="0.32">(T2+T3)</text>
</g>
<g id="E">
<text x="240.80" y="213.80" font-size="16.5" font-weight="bold" text-anchor="start" fill="#000" stroke="#000" stroke-width="0.5">E)</text>
<line x1="295.90" y1="226.60" x2="295.90" y2="361.00" stroke="#000" stroke-width="1.4"/>
<line x1="292.40" y1="227.10" x2="295.90" y2="227.10" stroke="#000" stroke-width="1.4"/>
<text x="288.00" y="229.80" font-size="8.7" font-weight="bold" text-anchor="end" fill="#000" stroke="#000" stroke-width="0.32">25</text>
<line x1="292.40" y1="253.70" x2="295.90" y2="253.70" stroke="#000" stroke-width="1.4"/>
<text x="288.00" y="256.40" font-size="8.7" font-weight="bold" text-anchor="end" fill="#000" stroke="#000" stroke-width="0.32">20</text>
<line x1="292.40" y1="280.30" x2="295.90" y2="280.30" stroke="#000" stroke-width="1.4"/>
<text x="288.00" y="283.00" font-size="8.7" font-weight="bold" text-anchor="end" fill="#000" stroke="#000" stroke-width="0.32">15</text>
<line x1="292.40" y1="306.90" x2="295.90" y2="306.90" stroke="#000" stroke-width="1.4"/>
<text x="288.00" y="309.60" font-size="8.7" font-weight="bold" text-anchor="end" fill="#000" stroke="#000" stroke-width="0.32">10</text>
<line x1="292.40" y1="333.50" x2="295.90" y2="333.50" stroke="#000" stroke-width="1.4"/>
<text x="288.00" y="336.20" font-size="8.7" font-weight="bold" text-anchor="end" fill="#000" stroke="#000" stroke-width="0.32">5</text>
<line x1="292.40" y1="360.10" x2="295.90" y2="360.10" stroke="#000" stroke-width="1.4"/>
<text x="288.00" y="362.80" font-size="8.7" font-weight="bold" text-anchor="end" fill="#000" stroke="#000" stroke-width="0.32">0</text>
<line x1="293.50" y1="360.50" x2="489.50" y2="360.50" stroke="#000" stroke-width="1.4"/>
<line x1="328.50" y1="360.50" x2="328.50" y2="363.70" stroke="#000" stroke-width="1.4"/>
<line x1="396.50" y1="360.50" x2="396.50" y2="363.70" stroke="#000" stroke-width="1.4"/>
<line x1="462.50" y1="360.50" x2="462.50" y2="363.70" stroke="#000" stroke-width="1.4"/>
<text x="266.20" y="291.30" font-size="10.5" font-weight="bold" text-anchor="middle" fill="#000" letter-spacing="0.4" transform="rotate(-90 266.20 291.30)" stroke="#000" stroke-width="0.18">STK1 activity (pmol/min/mL)</text>
<line x1="322.10" y1="236.30" x2="460.70" y2="236.30" stroke="#000" stroke-width="1.75"/>
<line x1="322.10" y1="232.10" x2="322.10" y2="240.50" stroke="#000" stroke-width="1.75"/>
<line x1="460.70" y1="232.10" x2="460.70" y2="240.50" stroke="#000" stroke-width="1.75"/>
<text x="386.47" y="232.40" font-size="7.4" font-weight="bold" text-anchor="start" fill="#000" letter-spacing="1.5" stroke="#000" stroke-width="0.32">**</text>
<line x1="389.40" y1="254.80" x2="460.00" y2="254.80" stroke="#000" stroke-width="1.75"/>
<line x1="389.40" y1="250.60" x2="389.40" y2="259.00" stroke="#000" stroke-width="1.75"/>
<line x1="460.00" y1="250.60" x2="460.00" y2="259.00" stroke="#000" stroke-width="1.75"/>
<text x="423.50" y="252.20" font-size="10" font-weight="normal" text-anchor="middle" fill="#000">ns</text>
<line x1="327.20" y1="319.80" x2="397.30" y2="319.80" stroke="#000" stroke-width="1.75"/>
<line x1="327.20" y1="315.60" x2="327.20" y2="324.00" stroke="#000" stroke-width="1.75"/>
<line x1="397.30" y1="315.60" x2="397.30" y2="324.00" stroke="#000" stroke-width="1.75"/>
<text x="356.80" y="315.90" font-size="10" font-weight="normal" text-anchor="middle" fill="#000">ns</text>
<path d="M459.53 271.56L465.53 271.56L462.53 266.04Z"/>
<path d="M451.83 314.44L457.83 314.44L454.83 308.92Z"/>
<path d="M459.53 318.29L465.53 318.29L462.53 312.77Z"/>
<path d="M443.61 331.64L449.61 331.64L446.61 326.12Z"/>
<path d="M451.83 334.98L457.83 334.98L454.83 329.46Z"/>
<path d="M468.00 334.98L474.00 334.98L471.00 329.46Z"/>
<path d="M475.70 334.98L481.70 334.98L478.70 329.46Z"/>
<path d="M459.53 338.83L465.53 338.83L462.53 333.31Z"/>
<path d="M451.83 351.15L457.83 351.15L454.83 345.63Z"/>
<path d="M468.00 349.10L474.00 349.10L471.00 343.58Z"/>
<path d="M447.46 354.23L453.46 354.23L450.46 348.71Z"/>
<path d="M455.68 354.23L461.68 354.23L458.68 348.71Z"/>
<path d="M464.15 354.23L470.15 354.23L467.15 348.71Z"/>
<path d="M471.85 354.23L477.85 354.23L474.85 348.71Z"/>
<path d="M443.61 358.85L449.61 358.85L446.61 353.33Z"/>
<path d="M447.46 359.37L453.46 359.37L450.46 353.85Z"/>
<path d="M451.83 358.85L457.83 358.85L454.83 353.33Z"/>
<path d="M455.68 359.37L461.68 359.37L458.68 353.85Z"/>
<path d="M459.53 358.85L465.53 358.85L462.53 353.33Z"/>
<path d="M464.15 359.37L470.15 359.37L467.15 353.85Z"/>
<path d="M468.00 358.85L474.00 358.85L471.00 353.33Z"/>
<path d="M471.85 359.37L477.85 359.37L474.85 353.85Z"/>
<path d="M475.70 358.85L481.70 358.85L478.70 353.33Z"/>
<line x1="462.50" y1="321.00" x2="462.50" y2="359.50" stroke="#000" stroke-width="1.6"/>
<line x1="449.40" y1="321.00" x2="475.60" y2="321.00" stroke="#000" stroke-width="1.6"/>
<line x1="440.20" y1="341.20" x2="485.10" y2="341.20" stroke="#111" stroke-width="1.2"/>
<circle cx="321.40" cy="343.10" r="2.7"/>
<circle cx="329.70" cy="347.50" r="2.7"/>
<circle cx="310.20" cy="356.10" r="2.6"/>
<circle cx="313.70" cy="357.10" r="2.6"/>
<circle cx="317.20" cy="356.10" r="2.6"/>
<circle cx="320.70" cy="357.10" r="2.6"/>
<circle cx="324.20" cy="356.10" r="2.6"/>
<circle cx="327.70" cy="357.10" r="2.6"/>
<circle cx="331.20" cy="356.10" r="2.6"/>
<circle cx="334.70" cy="357.10" r="2.6"/>
<circle cx="338.20" cy="356.10" r="2.6"/>
<circle cx="341.70" cy="357.10" r="2.6"/>
<circle cx="345.20" cy="356.10" r="2.6"/>
<circle cx="348.70" cy="357.10" r="2.6"/>
<circle cx="311.50" cy="352.20" r="2.6"/>
<circle cx="315.10" cy="353.40" r="2.6"/>
<circle cx="318.70" cy="352.20" r="2.6"/>
<circle cx="322.30" cy="353.40" r="2.6"/>
<circle cx="325.90" cy="352.20" r="2.6"/>
<circle cx="329.50" cy="353.40" r="2.6"/>
<circle cx="333.10" cy="352.20" r="2.6"/>
<circle cx="336.70" cy="353.40" r="2.6"/>
<circle cx="340.30" cy="352.20" r="2.6"/>
<circle cx="343.90" cy="353.40" r="2.6"/>
<circle cx="347.50" cy="352.20" r="2.6"/>
<line x1="307.30" y1="354.40" x2="351.80" y2="354.40" stroke="#111" stroke-width="1.2"/>
<rect x="377.15" y="351.45" width="4.7" height="4.7"/>
<rect x="382.05" y="352.65" width="4.7" height="4.7"/>
<rect x="386.95" y="351.45" width="4.7" height="4.7"/>
<rect x="391.85" y="352.65" width="4.7" height="4.7"/>
<rect x="396.75" y="351.45" width="4.7" height="4.7"/>
<rect x="401.65" y="352.65" width="4.7" height="4.7"/>
<rect x="406.55" y="351.45" width="4.7" height="4.7"/>
<rect x="411.45" y="352.65" width="4.7" height="4.7"/>
<rect x="381.65" y="347.55" width="4.7" height="4.7"/>
<rect x="386.65" y="348.95" width="4.7" height="4.7"/>
<rect x="391.65" y="347.55" width="4.7" height="4.7"/>
<rect x="396.65" y="348.95" width="4.7" height="4.7"/>
<rect x="401.65" y="347.55" width="4.7" height="4.7"/>
<rect x="406.65" y="348.95" width="4.7" height="4.7"/>
<rect x="394.00" y="344.10" width="5.0" height="5.0"/>
<rect x="390.00" y="345.30" width="5.0" height="5.0"/>
<rect x="398.20" y="345.30" width="5.0" height="5.0"/>
<rect x="394.00" y="355.10" width="5.0" height="5.0"/>
<line x1="373.40" y1="352.00" x2="418.80" y2="352.00" stroke="#111" stroke-width="1.2"/>
<text x="332.20" y="373.60" font-size="10.1" font-weight="bold" text-anchor="end" fill="#000" transform="rotate(-45 332.20 373.60)" stroke="#000" stroke-width="0.32">Blood donors</text>
<text x="399.60" y="373.60" font-size="10.1" font-weight="bold" text-anchor="end" fill="#000" transform="rotate(-45 399.60 373.60)" stroke="#000" stroke-width="0.32">DCIS</text>
<text x="466.00" y="373.60" font-size="10.1" font-weight="bold" text-anchor="end" fill="#000" transform="rotate(-45 466.00 373.60)" stroke="#000" stroke-width="0.32">ID+ID/L</text>
</g>
<g id="F">
<text x="247.80" y="427.20" font-size="16.5" font-weight="bold" text-anchor="start" fill="#000" stroke="#000" stroke-width="0.5">F)</text>
<line x1="319.80" y1="441.50" x2="319.80" y2="568.60" stroke="#000" stroke-width="1.4"/>
<line x1="316.30" y1="442.00" x2="319.80" y2="442.00" stroke="#000" stroke-width="1.4"/>
<text x="311.80" y="444.70" font-size="8.7" font-weight="bold" text-anchor="end" fill="#000" stroke="#000" stroke-width="0.32">60</text>
<line x1="316.30" y1="463.02" x2="319.80" y2="463.02" stroke="#000" stroke-width="1.4"/>
<text x="311.80" y="465.72" font-size="8.7" font-weight="bold" text-anchor="end" fill="#000" stroke="#000" stroke-width="0.32">50</text>
<line x1="316.30" y1="484.04" x2="319.80" y2="484.04" stroke="#000" stroke-width="1.4"/>
<text x="311.80" y="486.74" font-size="8.7" font-weight="bold" text-anchor="end" fill="#000" stroke="#000" stroke-width="0.32">40</text>
<line x1="316.30" y1="505.06" x2="319.80" y2="505.06" stroke="#000" stroke-width="1.4"/>
<text x="311.80" y="507.76" font-size="8.7" font-weight="bold" text-anchor="end" fill="#000" stroke="#000" stroke-width="0.32">30</text>
<line x1="316.30" y1="526.08" x2="319.80" y2="526.08" stroke="#000" stroke-width="1.4"/>
<text x="311.80" y="528.78" font-size="8.7" font-weight="bold" text-anchor="end" fill="#000" stroke="#000" stroke-width="0.32">20</text>
<line x1="316.30" y1="547.10" x2="319.80" y2="547.10" stroke="#000" stroke-width="1.4"/>
<text x="311.80" y="549.80" font-size="8.7" font-weight="bold" text-anchor="end" fill="#000" stroke="#000" stroke-width="0.32">10</text>
<line x1="316.30" y1="568.12" x2="319.80" y2="568.12" stroke="#000" stroke-width="1.4"/>
<text x="311.80" y="570.82" font-size="8.7" font-weight="bold" text-anchor="end" fill="#000" stroke="#000" stroke-width="0.32">0</text>
<line x1="317.50" y1="568.10" x2="510.40" y2="568.10" stroke="#000" stroke-width="1.4"/>
<line x1="351.60" y1="568.10" x2="351.60" y2="571.30" stroke="#000" stroke-width="1.4"/>
<line x1="414.50" y1="568.10" x2="414.50" y2="571.30" stroke="#000" stroke-width="1.4"/>
<line x1="478.40" y1="568.10" x2="478.40" y2="571.30" stroke="#000" stroke-width="1.4"/>
<text x="292.20" y="504.40" font-size="9.9" font-weight="bold" text-anchor="middle" fill="#000" letter-spacing="0.4" transform="rotate(-90 292.20 504.40)" stroke="#000" stroke-width="0.18">STK1 protein (ng/mL)</text>
<line x1="342.90" y1="450.90" x2="475.10" y2="450.90" stroke="#000" stroke-width="1.75"/>
<line x1="342.90" y1="446.70" x2="342.90" y2="455.10" stroke="#000" stroke-width="1.75"/>
<line x1="475.10" y1="446.70" x2="475.10" y2="455.10" stroke="#000" stroke-width="1.75"/>
<text x="397.08" y="447.40" font-size="7.4" font-weight="bold" text-anchor="start" fill="#000" letter-spacing="1.5" stroke="#000" stroke-width="0.32">***</text>
<line x1="405.50" y1="466.30" x2="473.30" y2="466.30" stroke="#000" stroke-width="1.75"/>
<line x1="405.50" y1="462.10" x2="405.50" y2="470.50" stroke="#000" stroke-width="1.75"/>
<line x1="473.30" y1="462.10" x2="473.30" y2="470.50" stroke="#000" stroke-width="1.75"/>
<text x="432.97" y="464.00" font-size="7.4" font-weight="bold" text-anchor="start" fill="#000" letter-spacing="1.5" stroke="#000" stroke-width="0.32">**</text>
<line x1="345.40" y1="498.90" x2="411.90" y2="498.90" stroke="#000" stroke-width="1.75"/>
<line x1="345.40" y1="494.70" x2="345.40" y2="503.10" stroke="#000" stroke-width="1.75"/>
<line x1="411.90" y1="494.70" x2="411.90" y2="503.10" stroke="#000" stroke-width="1.75"/>
<text x="372.48" y="498.20" font-size="7.4" font-weight="bold" text-anchor="start" fill="#000" letter-spacing="1.5" stroke="#000" stroke-width="0.32">***</text>
<path d="M467.36 477.31L473.56 477.31L470.46 471.61Z"/>
<path d="M475.06 483.22L481.26 483.22L478.16 477.51Z"/>
<path d="M459.66 494.00L465.86 494.00L462.76 488.30Z"/>
<path d="M475.06 491.69L481.26 491.69L478.16 485.98Z"/>
<path d="M482.77 492.72L488.97 492.72L485.87 487.01Z"/>
<path d="M467.36 497.34L473.56 497.34L470.46 491.63Z"/>
<path d="M475.06 499.90L481.26 499.90L478.16 494.20Z"/>
<path d="M467.36 512.74L473.56 512.74L470.46 507.04Z"/>
<path d="M482.77 515.31L488.97 515.31L485.87 509.60Z"/>
<path d="M459.66 523.01L465.86 523.01L462.76 517.31Z"/>
<path d="M475.06 520.44L481.26 520.44L478.16 514.74Z"/>
<path d="M490.47 521.73L496.67 521.73L493.57 516.02Z"/>
<path d="M467.36 528.15L473.56 528.15L470.46 522.44Z"/>
<path d="M482.77 523.52L488.97 523.52L485.87 517.82Z"/>
<path d="M459.66 531.23L465.86 531.23L462.76 525.52Z"/>
<path d="M475.06 529.43L481.26 529.43L478.16 523.73Z"/>
<path d="M467.36 538.42L473.56 538.42L470.46 532.71Z"/>
<path d="M482.77 538.42L488.97 538.42L485.87 532.71Z"/>
<path d="M490.47 535.85L496.67 535.85L493.57 530.14Z"/>
<path d="M475.06 538.42L481.26 538.42L478.16 532.71Z"/>
<path d="M467.36 544.83L473.56 544.83L470.46 539.13Z"/>
<path d="M475.06 546.12L481.26 546.12L478.16 540.41Z"/>
<path d="M482.77 550.74L488.97 550.74L485.87 545.03Z"/>
<path d="M475.06 556.90L481.26 556.90L478.16 551.20Z"/>
<line x1="478.20" y1="493.40" x2="478.20" y2="538.30" stroke="#000" stroke-width="1.75"/>
<line x1="464.80" y1="493.40" x2="489.70" y2="493.40" stroke="#000" stroke-width="1.75"/>
<line x1="464.80" y1="538.30" x2="489.70" y2="538.30" stroke="#000" stroke-width="1.75"/>
<line x1="456.90" y1="515.20" x2="499.20" y2="515.20" stroke="#111" stroke-width="1.25"/>
<rect x="404.76" y="507.09" width="5.6" height="5.6"/>
<rect x="411.95" y="507.09" width="5.6" height="5.6"/>
<rect x="411.95" y="516.08" width="5.6" height="5.6"/>
<rect x="404.76" y="525.06" width="5.6" height="5.6"/>
<rect x="411.95" y="523.78" width="5.6" height="5.6"/>
<rect x="411.95" y="532.25" width="5.6" height="5.6"/>
<rect x="419.65" y="532.25" width="5.6" height="5.6"/>
<rect x="411.95" y="548.68" width="5.6" height="5.6"/>
<rect x="427.10" y="551.25" width="5.6" height="5.6"/>
<rect x="404.76" y="555.36" width="5.6" height="5.6"/>
<rect x="419.65" y="555.36" width="5.6" height="5.6"/>
<rect x="411.95" y="557.15" width="5.6" height="5.6"/>
<line x1="414.70" y1="517.30" x2="414.70" y2="555.00" stroke="#000" stroke-width="1.75"/>
<line x1="402.40" y1="517.30" x2="426.80" y2="517.30" stroke="#000" stroke-width="1.75"/>
<line x1="402.40" y1="555.00" x2="426.80" y2="555.00" stroke="#000" stroke-width="1.75"/>
<line x1="393.40" y1="535.30" x2="435.80" y2="535.30" stroke="#111" stroke-width="1.25"/>
<circle cx="348.05" cy="540.49" r="2.8"/>
<circle cx="336.59" cy="545.12" r="2.8"/>
<circle cx="355.85" cy="543.41" r="2.8"/>
<circle cx="366.83" cy="545.12" r="2.8"/>
<circle cx="344.39" cy="547.56" r="2.8"/>
<circle cx="359.02" cy="547.56" r="2.8"/>
<circle cx="351.71" cy="549.02" r="2.8"/>
<circle cx="340.73" cy="552.44" r="2.8"/>
<circle cx="348.05" cy="553.66" r="2.8"/>
<circle cx="359.02" cy="553.17" r="2.8"/>
<circle cx="363.90" cy="551.71" r="2.8"/>
<circle cx="335.12" cy="558.54" r="2.8"/>
<circle cx="344.39" cy="557.56" r="2.8"/>
<circle cx="351.71" cy="558.54" r="2.8"/>
<circle cx="359.02" cy="558.54" r="2.8"/>
<circle cx="366.83" cy="558.05" r="2.8"/>
<circle cx="370.49" cy="559.02" r="2.8"/>
<circle cx="339.51" cy="560.00" r="2.8"/>
<circle cx="355.37" cy="560.49" r="2.8"/>
<circle cx="335.85" cy="564.15" r="2.8"/>
<circle cx="339.51" cy="562.93" r="2.8"/>
<circle cx="343.17" cy="564.63" r="2.8"/>
<circle cx="346.83" cy="562.93" r="2.8"/>
<circle cx="350.49" cy="564.63" r="2.8"/>
<circle cx="354.15" cy="562.93" r="2.8"/>
<circle cx="357.80" cy="564.63" r="2.8"/>
<circle cx="361.46" cy="562.93" r="2.8"/>
<circle cx="365.12" cy="564.63" r="2.8"/>
<circle cx="368.78" cy="562.93" r="2.8"/>
<circle cx="370.73" cy="564.39" r="2.8"/>
<line x1="351.60" y1="550.20" x2="351.60" y2="564.00" stroke="#000" stroke-width="1.75"/>
<line x1="339.50" y1="550.20" x2="363.40" y2="550.20" stroke="#000" stroke-width="1.75"/>
<line x1="339.50" y1="564.00" x2="363.40" y2="564.00" stroke="#000" stroke-width="1.75"/>
<line x1="330.50" y1="557.10" x2="372.90" y2="557.10" stroke="#111" stroke-width="1.25"/>
<text x="354.30" y="581.00" font-size="9.6" font-weight="bold" text-anchor="end" fill="#000" transform="rotate(-45 354.30 581.00)" stroke="#000" stroke-width="0.32">Blood donors</text>
<text x="417.80" y="581.00" font-size="9.6" font-weight="bold" text-anchor="end" fill="#000" transform="rotate(-45 417.80 581.00)" stroke="#000" stroke-width="0.32">DCIS</text>
<text x="481.20" y="581.00" font-size="9.6" font-weight="bold" text-anchor="end" fill="#000" transform="rotate(-45 481.20 581.00)" stroke="#000" stroke-width="0.32">ID+ID/L</text>
</g>
<g id="G">
<text x="502.50" y="36.40" font-size="15.5" font-weight="bold" text-anchor="start" fill="#000" stroke="#000" stroke-width="0.5">G)</text>
<line x1="551.30" y1="49.70" x2="551.30" y2="195.00" stroke="#000" stroke-width="1.5"/>
<line x1="547.10" y1="50.20" x2="551.30" y2="50.20" stroke="#000" stroke-width="1.5"/>
<text x="543.40" y="53.30" font-size="10.0" font-weight="bold" text-anchor="end" fill="#000" stroke="#000" stroke-width="0.32">1.0</text>
<line x1="547.10" y1="79.06" x2="551.30" y2="79.06" stroke="#000" stroke-width="1.5"/>
<text x="543.40" y="82.16" font-size="10.0" font-weight="bold" text-anchor="end" fill="#000" stroke="#000" stroke-width="0.32">0.8</text>
<line x1="547.10" y1="107.92" x2="551.30" y2="107.92" stroke="#000" stroke-width="1.5"/>
<text x="543.40" y="111.02" font-size="10.0" font-weight="bold" text-anchor="end" fill="#000" stroke="#000" stroke-width="0.32">0.6</text>
<line x1="547.10" y1="136.78" x2="551.30" y2="136.78" stroke="#000" stroke-width="1.5"/>
<text x="543.40" y="139.88" font-size="10.0" font-weight="bold" text-anchor="end" fill="#000" stroke="#000" stroke-width="0.32">0.4</text>
<line x1="547.10" y1="165.64" x2="551.30" y2="165.64" stroke="#000" stroke-width="1.5"/>
<text x="543.40" y="168.74" font-size="10.0" font-weight="bold" text-anchor="end" fill="#000" stroke="#000" stroke-width="0.32">0.2</text>
<line x1="547.10" y1="194.50" x2="551.30" y2="194.50" stroke="#000" stroke-width="1.5"/>
<text x="543.40" y="197.60" font-size="10.0" font-weight="bold" text-anchor="end" fill="#000" stroke="#000" stroke-width="0.32">0.0</text>
<line x1="550.80" y1="194.50" x2="768.80" y2="194.50" stroke="#000" stroke-width="1.5"/>
<line x1="551.30" y1="194.50" x2="551.30" y2="198.80" stroke="#000" stroke-width="1.5"/>
<line x1="594.70" y1="194.50" x2="594.70" y2="198.80" stroke="#000" stroke-width="1.5"/>
<line x1="638.10" y1="194.50" x2="638.10" y2="198.80" stroke="#000" stroke-width="1.5"/>
<line x1="681.50" y1="194.50" x2="681.50" y2="198.80" stroke="#000" stroke-width="1.5"/>
<line x1="724.90" y1="194.50" x2="724.90" y2="198.80" stroke="#000" stroke-width="1.5"/>
<line x1="768.30" y1="194.50" x2="768.30" y2="198.80" stroke="#000" stroke-width="1.5"/>
<text x="553.70" y="208.10" font-size="10.4" font-weight="bold" text-anchor="end" fill="#000" letter-spacing="0.5" transform="rotate(-45 553.70 208.10)" stroke="#000" stroke-width="0.32">0.0</text>
<text x="597.10" y="208.10" font-size="10.4" font-weight="bold" text-anchor="end" fill="#000" letter-spacing="0.5" transform="rotate(-45 597.10 208.10)" stroke="#000" stroke-width="0.32">0.2</text>
<text x="640.50" y="208.10" font-size="10.4" font-weight="bold" text-anchor="end" fill="#000" letter-spacing="0.5" transform="rotate(-45 640.50 208.10)" stroke="#000" stroke-width="0.32">0.4</text>
<text x="683.90" y="208.10" font-size="10.4" font-weight="bold" text-anchor="end" fill="#000" letter-spacing="0.5" transform="rotate(-45 683.90 208.10)" stroke="#000" stroke-width="0.32">0.6</text>
<text x="727.30" y="208.10" font-size="10.4" font-weight="bold" text-anchor="end" fill="#000" letter-spacing="0.5" transform="rotate(-45 727.30 208.10)" stroke="#000" stroke-width="0.32">0.8</text>
<text x="770.70" y="208.10" font-size="10.4" font-weight="bold" text-anchor="end" fill="#000" letter-spacing="0.5" transform="rotate(-45 770.70 208.10)" stroke="#000" stroke-width="0.32">1.0</text>
<text x="517.40" y="120.20" font-size="11.2" font-weight="bold" text-anchor="middle" fill="#000" letter-spacing="0.36" transform="rotate(-90 517.40 120.20)" stroke="#000" stroke-width="0.15">Sensitivity</text>
<text x="653.70" y="233.90" font-size="11.6" font-weight="bold" text-anchor="middle" fill="#000" stroke="#000" stroke-width="0.5">1 - Specificity</text>
<text x="585.30" y="141.80" font-size="11.9" font-weight="bold" text-anchor="start" fill="#000" stroke="#000" stroke-width="0.5">Sensitivity = 0.26</text>
<text x="585.30" y="155.90" font-size="11.9" font-weight="bold" text-anchor="start" fill="#000" stroke="#000" stroke-width="0.5">Specificity = 0.96</text>
<text x="585.30" y="170.00" font-size="11.9" font-weight="bold" text-anchor="start" fill="#000" stroke="#000" stroke-width="0.5">AUC = 0.77</text>
<polyline fill="none" stroke="#000" stroke-width="1.2" points="551.4,191.9 551.4,157.5 558.4,157.5 558.4,148.0 566.1,148.0 566.1,117.6 572.8,117.6 572.8,110.6 580.5,110.6 587.6,110.6 587.6,106.9 594.6,107.5 594.6,100.4 602.0,100.4 609.3,100.4 616.7,100.4 616.7,93.7 623.8,93.7 631.1,93.7 638.2,90.0 645.8,90.0 645.8,86.6 652.9,86.6 660.0,83.9 660.0,79.9 667.3,80.5 674.1,76.8 674.1,72.8 681.4,72.8 688.5,72.8 688.5,70.1 695.9,70.1 710.6,70.1 717.3,67.0 717.3,60.6 724.7,56.9 731.8,56.9 731.8,53.2 739.4,53.2 746.5,53.2 753.8,53.2 753.8,50.1 760.9,50.1"/>
<circle cx="551.35" cy="157.51" r="2.95"/>
<circle cx="551.35" cy="160.88" r="2.95"/>
<circle cx="551.35" cy="164.26" r="2.95"/>
<circle cx="551.35" cy="167.63" r="2.95"/>
<circle cx="551.35" cy="171.01" r="2.95"/>
<circle cx="551.35" cy="174.69" r="2.95"/>
<circle cx="551.35" cy="178.06" r="2.95"/>
<circle cx="551.35" cy="181.44" r="2.95"/>
<circle cx="551.35" cy="184.81" r="2.95"/>
<circle cx="551.35" cy="188.19" r="2.95"/>
<circle cx="551.35" cy="191.87" r="2.95"/>
<circle cx="558.41" cy="157.51" r="2.95"/>
<circle cx="558.41" cy="152.60" r="2.95"/>
<circle cx="558.41" cy="148.00" r="2.95"/>
<circle cx="566.08" cy="148.00" r="2.95"/>
<circle cx="566.08" cy="143.70" r="2.95"/>
<circle cx="566.08" cy="138.18" r="2.95"/>
<circle cx="566.08" cy="133.58" r="2.95"/>
<circle cx="566.08" cy="128.05" r="2.95"/>
<circle cx="566.08" cy="121.30" r="2.95"/>
<circle cx="566.08" cy="117.62" r="2.95"/>
<circle cx="572.83" cy="117.62" r="2.95"/>
<circle cx="572.83" cy="113.63" r="2.95"/>
<circle cx="572.83" cy="110.57" r="2.95"/>
<circle cx="580.50" cy="110.57" r="2.95"/>
<circle cx="587.55" cy="110.57" r="2.95"/>
<circle cx="587.55" cy="106.88" r="2.95"/>
<circle cx="594.61" cy="107.50" r="2.95"/>
<circle cx="594.61" cy="100.44" r="2.95"/>
<circle cx="601.97" cy="100.44" r="2.95"/>
<circle cx="609.34" cy="100.44" r="2.95"/>
<circle cx="616.70" cy="100.44" r="2.95"/>
<circle cx="616.70" cy="93.69" r="2.95"/>
<circle cx="623.76" cy="93.69" r="2.95"/>
<circle cx="631.12" cy="93.69" r="2.95"/>
<circle cx="638.18" cy="90.01" r="2.95"/>
<circle cx="645.85" cy="90.01" r="2.95"/>
<circle cx="645.85" cy="86.63" r="2.95"/>
<circle cx="652.90" cy="86.63" r="2.95"/>
<circle cx="659.96" cy="83.87" r="2.95"/>
<circle cx="659.96" cy="79.88" r="2.95"/>
<circle cx="667.32" cy="80.50" r="2.95"/>
<circle cx="674.07" cy="76.82" r="2.95"/>
<circle cx="674.07" cy="72.83" r="2.95"/>
<circle cx="681.44" cy="72.83" r="2.95"/>
<circle cx="688.49" cy="72.83" r="2.95"/>
<circle cx="688.49" cy="70.07" r="2.95"/>
<circle cx="695.86" cy="70.07" r="2.95"/>
<circle cx="710.58" cy="70.07" r="2.95"/>
<circle cx="717.33" cy="67.00" r="2.95"/>
<circle cx="717.33" cy="60.56" r="2.95"/>
<circle cx="724.70" cy="56.87" r="2.95"/>
<circle cx="731.75" cy="56.87" r="2.95"/>
<circle cx="731.75" cy="53.19" r="2.95"/>
<circle cx="739.42" cy="53.19" r="2.95"/>
<circle cx="746.48" cy="53.19" r="2.95"/>
<circle cx="753.84" cy="53.19" r="2.95"/>
<circle cx="753.84" cy="50.12" r="2.95"/>
<circle cx="760.90" cy="50.12" r="2.95"/>
</g>
<g id="H">
<text x="508.80" y="278.20" font-size="15.5" font-weight="bold" text-anchor="start" fill="#000" stroke="#000" stroke-width="0.5">H)</text>
<line x1="560.40" y1="283.70" x2="560.40" y2="428.70" stroke="#000" stroke-width="1.5"/>
<line x1="556.20" y1="284.20" x2="560.40" y2="284.20" stroke="#000" stroke-width="1.5"/>
<text x="552.60" y="287.30" font-size="10.0" font-weight="bold" text-anchor="end" fill="#000" stroke="#000" stroke-width="0.32">1.0</text>
<line x1="556.20" y1="313.00" x2="560.40" y2="313.00" stroke="#000" stroke-width="1.5"/>
<text x="552.60" y="316.10" font-size="10.0" font-weight="bold" text-anchor="end" fill="#000" stroke="#000" stroke-width="0.32">0.8</text>
<line x1="556.20" y1="341.80" x2="560.40" y2="341.80" stroke="#000" stroke-width="1.5"/>
<text x="552.60" y="344.90" font-size="10.0" font-weight="bold" text-anchor="end" fill="#000" stroke="#000" stroke-width="0.32">0.6</text>
<line x1="556.20" y1="370.60" x2="560.40" y2="370.60" stroke="#000" stroke-width="1.5"/>
<text x="552.60" y="373.70" font-size="10.0" font-weight="bold" text-anchor="end" fill="#000" stroke="#000" stroke-width="0.32">0.4</text>
<line x1="556.20" y1="399.40" x2="560.40" y2="399.40" stroke="#000" stroke-width="1.5"/>
<text x="552.60" y="402.50" font-size="10.0" font-weight="bold" text-anchor="end" fill="#000" stroke="#000" stroke-width="0.32">0.2</text>
<line x1="556.20" y1="428.20" x2="560.40" y2="428.20" stroke="#000" stroke-width="1.5"/>
<text x="552.60" y="431.30" font-size="10.0" font-weight="bold" text-anchor="end" fill="#000" stroke="#000" stroke-width="0.32">0.0</text>
<line x1="559.90" y1="428.20" x2="776.90" y2="428.20" stroke="#000" stroke-width="1.5"/>
<line x1="560.40" y1="428.20" x2="560.40" y2="432.50" stroke="#000" stroke-width="1.5"/>
<line x1="614.40" y1="428.20" x2="614.40" y2="432.50" stroke="#000" stroke-width="1.5"/>
<line x1="668.40" y1="428.20" x2="668.40" y2="432.50" stroke="#000" stroke-width="1.5"/>
<line x1="722.40" y1="428.20" x2="722.40" y2="432.50" stroke="#000" stroke-width="1.5"/>
<line x1="776.40" y1="428.20" x2="776.40" y2="432.50" stroke="#000" stroke-width="1.5"/>
<text x="562.80" y="441.80" font-size="10.4" font-weight="bold" text-anchor="end" fill="#000" letter-spacing="0.5" transform="rotate(-45 562.80 441.80)" stroke="#000" stroke-width="0.32">0.0</text>
<text x="616.80" y="441.80" font-size="10.4" font-weight="bold" text-anchor="end" fill="#000" letter-spacing="0.5" transform="rotate(-45 616.80 441.80)" stroke="#000" stroke-width="0.32">0.2</text>
<text x="670.80" y="441.80" font-size="10.4" font-weight="bold" text-anchor="end" fill="#000" letter-spacing="0.5" transform="rotate(-45 670.80 441.80)" stroke="#000" stroke-width="0.32">0.4</text>
<text x="724.80" y="441.80" font-size="10.4" font-weight="bold" text-anchor="end" fill="#000" letter-spacing="0.5" transform="rotate(-45 724.80 441.80)" stroke="#000" stroke-width="0.32">0.6</text>
<text x="778.80" y="441.80" font-size="10.4" font-weight="bold" text-anchor="end" fill="#000" letter-spacing="0.5" transform="rotate(-45 778.80 441.80)" stroke="#000" stroke-width="0.32">0.8</text>
<text x="525.00" y="356.40" font-size="12" font-weight="normal" text-anchor="middle" fill="#000" letter-spacing="0.6" transform="rotate(-90 525.00 356.40)" stroke="#000" stroke-width="0.25">Sensitivity</text>
<text x="662.50" y="467.40" font-size="11.6" font-weight="bold" text-anchor="middle" fill="#000" stroke="#000" stroke-width="0.5">1 - Specificity</text>
<text x="591.60" y="368.00" font-size="11.75" font-weight="bold" text-anchor="start" fill="#000" stroke="#000" stroke-width="0.5">Sensitivity = 0.79</text>
<text x="591.60" y="382.60" font-size="11.9" font-weight="bold" text-anchor="start" fill="#000" stroke="#000" stroke-width="0.5">Specificity = 0.96</text>
<text x="591.60" y="397.20" font-size="11.75" font-weight="bold" text-anchor="start" fill="#000" stroke="#000" stroke-width="0.5">AUC = 0.97</text>
<polyline fill="none" stroke="#000" stroke-width="1.2" points="560.3,315.9 569.4,315.9 578.5,308.6 596.7,308.6 623.3,304.9 623.3,301.3 632.8,294.7 651.0,294.7 668.9,287.8 705.0,284.9"/>
<line x1="704.99" y1="284.89" x2="758.94" y2="284.89" stroke="#111" stroke-width="0.9"/>
<circle cx="569.37" cy="315.88" r="2.9"/>
<circle cx="578.49" cy="308.59" r="2.9"/>
<circle cx="596.71" cy="308.59" r="2.9"/>
<circle cx="623.33" cy="304.95" r="2.9"/>
<circle cx="623.33" cy="301.30" r="2.9"/>
<circle cx="632.81" cy="294.74" r="2.9"/>
<circle cx="651.03" cy="294.74" r="2.9"/>
<circle cx="668.90" cy="287.81" r="2.9"/>
<circle cx="704.99" cy="284.89" r="2.9"/>
<circle cx="758.94" cy="284.89" r="2.9"/>
<path d="M556.66 315.88L560.26 312.28L563.86 315.88L560.26 319.48Z"/>
<path d="M556.66 335.93L560.26 332.33L563.86 335.93L560.26 339.53Z"/>
<path d="M556.66 338.85L560.26 335.25L563.86 338.85L560.26 342.45Z"/>
<path d="M556.66 342.50L560.26 338.90L563.86 342.50L560.26 346.10Z"/>
<path d="M556.66 352.70L560.26 349.10L563.86 352.70L560.26 356.30Z"/>
<path d="M556.66 359.99L560.26 356.39L563.86 359.99L560.26 363.59Z"/>
<path d="M556.66 370.57L560.26 366.97L563.86 370.57L560.26 374.17Z"/>
<path d="M556.66 377.13L560.26 373.53L563.86 377.13L560.26 380.73Z"/>
<path d="M556.66 380.05L560.26 376.45L563.86 380.05L560.26 383.65Z"/>
<path d="M556.66 388.07L560.26 384.47L563.86 388.07L560.26 391.67Z"/>
<path d="M556.66 399.00L560.26 395.40L563.86 399.00L560.26 402.60Z"/>
<path d="M556.66 401.92L560.26 398.32L563.86 401.92L560.26 405.52Z"/>
<path d="M556.66 405.20L560.26 401.60L563.86 405.20L560.26 408.80Z"/>
<path d="M556.66 408.12L560.26 404.52L563.86 408.12L560.26 411.72Z"/>
<path d="M556.66 415.41L560.26 411.81L563.86 415.41L560.26 419.01Z"/>
<path d="M556.66 421.97L560.26 418.37L563.86 421.97L560.26 425.57Z"/>
<path d="M556.66 425.25L560.26 421.65L563.86 425.25L560.26 428.85Z"/>
</g>
</svg>
</body></html>
